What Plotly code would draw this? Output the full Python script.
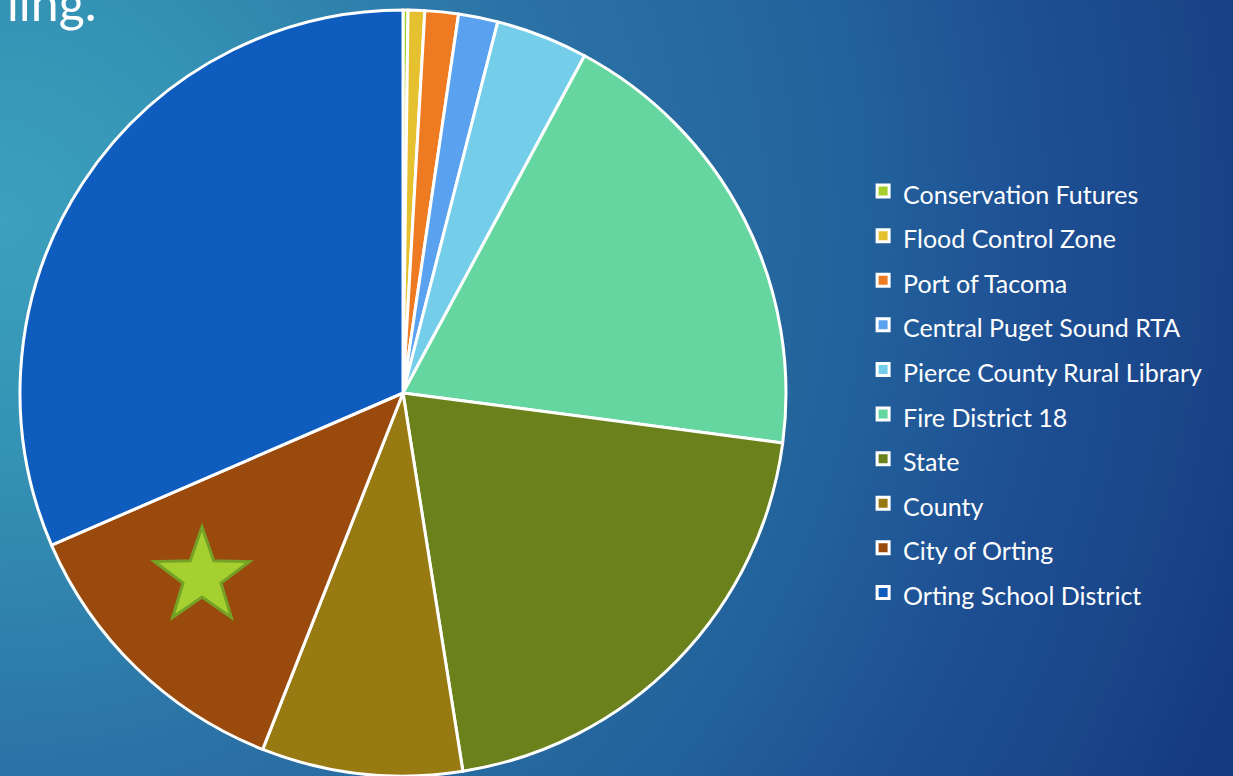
import base64, math
import plotly.graph_objects as go

# ---- data ----
categories = ["Conservation Futures", "Flood Control Zone", "Port of Tacoma",
              "Central Puget Sound RTA", "Pierce County Rural Library",
              "Fire District 18", "State", "County", "City of Orting",
              "Orting School District"]
shares = [0.21, 0.70, 1.41, 1.66, 3.88, 19.22, 20.42, 8.47, 12.53, 31.50]
colors = ["#A6CF2E", "#E6C12F", "#EE7B22", "#5AA2F0", "#74CEEA",
          "#66D6A1", "#6A811C", "#977A12", "#9A4A0C", "#0F5CBF"]

W, H = 1233, 776

# ---- background gradient (decorative) ----
svg = f'''<svg xmlns="http://www.w3.org/2000/svg" width="{W}" height="{H}" viewBox="0 0 {W} {H}" preserveAspectRatio="none">
<defs><radialGradient id="g" gradientUnits="userSpaceOnUse" cx="0" cy="220" r="1320">
<stop offset="0" stop-color="#3CA1BD"/>
<stop offset="0.18" stop-color="#3492B4"/>
<stop offset="0.42" stop-color="#2B72A6"/>
<stop offset="0.65" stop-color="#23629C"/>
<stop offset="0.78" stop-color="#1E5094"/>
<stop offset="0.91" stop-color="#1A4589"/>
<stop offset="1" stop-color="#143A82"/>
</radialGradient></defs>
<rect width="{W}" height="{H}" fill="url(#g)"/></svg>'''
bg_src = "data:image/svg+xml;base64," + base64.b64encode(svg.encode()).decode()

legend_labels = [f'<span style="font-size:25px">{c}</span>' for c in categories]

fig = go.Figure(go.Pie(
    labels=legend_labels,
    values=shares,
    sort=False,
    direction="clockwise",
    rotation=0,
    textinfo="none",
    hoverinfo="label+percent",
    marker=dict(colors=colors, line=dict(color="white", width=3)),
    domain=dict(x=[20 / W, 786 / W], y=[0, 766 / H]),
))

# ---- star decoration (computed from centre/radius) ----
cx, cy, R = 202, 577, 50
r_in = R * 0.40
pts = []
for k in range(10):
    rad = R if k % 2 == 0 else r_in
    a = math.radians(-90 + 36 * k)
    px, py = cx + rad * math.cos(a), cy + rad * math.sin(a)
    pts.append((px / W, 1 - py / H))
path = "M " + " L ".join(f"{x:.5f},{y:.5f}" for x, y in pts) + " Z"

fig.update_layout(
    width=W, height=H,
    margin=dict(l=0, r=0, t=0, b=0),
    paper_bgcolor="#2A72A6",
    plot_bgcolor="rgba(0,0,0,0)",
    images=[dict(source=bg_src, xref="paper", yref="paper", x=0, y=1,
                 sizex=1, sizey=1, sizing="stretch", layer="below",
                 xanchor="left", yanchor="top")],
    shapes=[dict(type="path", xref="paper", yref="paper", path=path,
                 fillcolor="#A6D030", line=dict(color="#75A126", width=3))],
    legend=dict(
        x=0.7, y=0.789, xanchor="left", yanchor="top",
        font=dict(family="Lato, sans-serif", size=32, color="white"),
        bgcolor="rgba(0,0,0,0)", borderwidth=0, itemwidth=30,
    ),
    showlegend=True,
    annotations=[dict(text="ling.", xref="paper", yref="paper",
                      x=0, y=1 - 2 / H, xanchor="left", yanchor="middle",
                      xshift=5, showarrow=False,
                      font=dict(family="Lato, sans-serif", size=50, color="white"))],
)

fig.write_html("out.html")
